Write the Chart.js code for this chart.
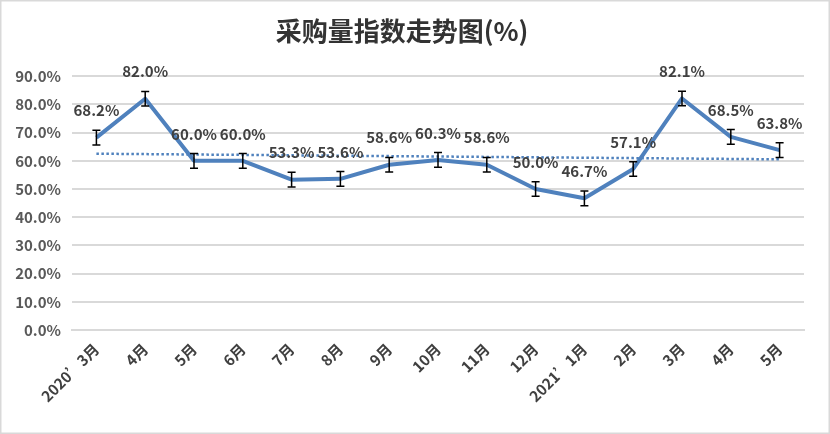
<!DOCTYPE html>
<html>
<head>
<meta charset="utf-8">
<script src="https://cdn.jsdelivr.net/npm/chart.js@4/dist/chart.umd.min.js"></script>
<style>
    html, body { margin: 0; padding: 0; background: #ffffff; }
    #wrap { width: 830px; height: 434px; }
</style>
</head>
<body>
<div id="wrap"><canvas id="lineChart" width="830" height="434"></canvas></div>
<script>
const months = ["2020’3月", "4月", "5月", "6月", "7月", "8月", "9月", "10月", "11月", "12月", "2021’1月", "2月", "3月", "4月", "5月"];
const purchaseIndex = [68.2, 82.0, 60.0, 60.0, 53.3, 53.6, 58.6, 60.3, 58.6, 50.0, 46.7, 57.1, 82.1, 68.5, 63.8];
const errorMargin = 2.6;
const yTicks = { min: 0, max: 90, step: 10 };

// linear trendline, same as the spreadsheet's "linear" trend option
function linearTrend(values) {
    const n = values.length;
    const mx = (n - 1) / 2;
    const my = values.reduce((a, b) => a + b, 0) / n;
    let sxy = 0, sxx = 0;
    values.forEach((v, i) => {
        sxy += (i - mx) * (v - my);
        sxx += (i - mx) * (i - mx);
    });
    const slope = sxy / sxx;
    return values.map((v, i) => my + slope * (i - mx));
}

const FONT = "'Noto Sans CJK SC', 'Noto Sans', sans-serif";
const lineBlue = "#4f81bd";

const frame = {
    id: "frame",
    beforeDraw(chart) {
        const ctx = chart.ctx;
        ctx.save();
        ctx.fillStyle = "#ffffff";
        ctx.fillRect(0, 0, chart.width, chart.height);
        ctx.strokeStyle = "#d9d9d9";
        ctx.lineWidth = 1.5;
        ctx.strokeRect(0.75, 0.75, chart.width - 1.5, chart.height - 1.5);
        ctx.restore();
    },
};

const errorBars = {
    id: "errorBars",
    afterDatasetsDraw(chart) {
        const ctx = chart.ctx;
        const y = chart.scales.y;
        const meta = chart.getDatasetMeta(0);
        ctx.save();
        ctx.strokeStyle = "#000000";
        ctx.lineWidth = 1.5;
        meta.data.forEach((pt, i) => {
            const v = purchaseIndex[i];
            const top = y.getPixelForValue(v + errorMargin);
            const bot = y.getPixelForValue(v - errorMargin);
            ctx.beginPath();
            ctx.moveTo(pt.x, top);
            ctx.lineTo(pt.x, bot);
            ctx.moveTo(pt.x - 4, top);
            ctx.lineTo(pt.x + 4, top);
            ctx.moveTo(pt.x - 4, bot);
            ctx.lineTo(pt.x + 4, bot);
            ctx.stroke();
        });
        ctx.restore();
    },
};

const valueLabels = {
    id: "valueLabels",
    afterDraw(chart) {
        const ctx = chart.ctx;
        const meta = chart.getDatasetMeta(0);
        ctx.save();
        ctx.font = "bold 15px " + FONT;
        ctx.fillStyle = "#404040";
        ctx.textAlign = "center";
        ctx.textBaseline = "middle";
        meta.data.forEach((pt, i) => {
            ctx.fillText(purchaseIndex[i].toFixed(1) + "%", pt.x, pt.y - 27);
        });
        ctx.restore();
    },
};

new Chart(document.getElementById("lineChart"), {
    type: "line",
    data: {
        labels: months,
        datasets: [
            {
                label: "采购量指数",
                data: purchaseIndex,
                borderColor: lineBlue,
                borderWidth: 4,
                borderJoinStyle: "round",
                pointRadius: 0,
                tension: 0,
                fill: false,
                order: 1,
            },
            {
                label: "线性趋势",
                data: linearTrend(purchaseIndex),
                borderColor: lineBlue,
                borderWidth: 2.5,
                borderDash: [2.5, 2.5],
                pointRadius: 0,
                fill: false,
                order: 2,
            },
        ],
    },
    options: {
        responsive: false,
        animation: false,
        layout: { padding: { left: 0, right: 26, top: 0, bottom: 0 } },
        plugins: {
            legend: { display: false },
            tooltip: { enabled: false },
            title: {
                display: true,
                text: "采购量指数走势图(%)",
                color: "#333333",
                font: { family: FONT, size: 26, weight: "bold" },
                padding: { top: 16, bottom: 29 },
            },
        },
        scales: {
            x: {
                offset: true,
                grid: { display: false, drawTicks: false },
                border: { color: "#d9d9d9", width: 2 },
                ticks: {
                    color: "#404040",
                    font: { family: FONT, size: 15, weight: "bold" },
                    maxRotation: 45,
                    minRotation: 45,
                    autoSkip: false,
                    padding: 10,
                },
                afterFit(scale) { scale.height = 104; },
            },
            y: {
                min: yTicks.min,
                max: yTicks.max,
                grid: { color: "#d9d9d9", lineWidth: 2, drawTicks: false },
                border: { display: false },
                ticks: {
                    stepSize: yTicks.step,
                    color: "#595959",
                    font: { family: FONT, size: 15, weight: "bold" },
                    padding: 11,
                    callback: (v) => v.toFixed(1) + "%",
                },
                afterFit(scale) { scale.width = 72; },
            },
        },
    },
    plugins: [frame, errorBars, valueLabels],
});
</script>
</body>
</html>
